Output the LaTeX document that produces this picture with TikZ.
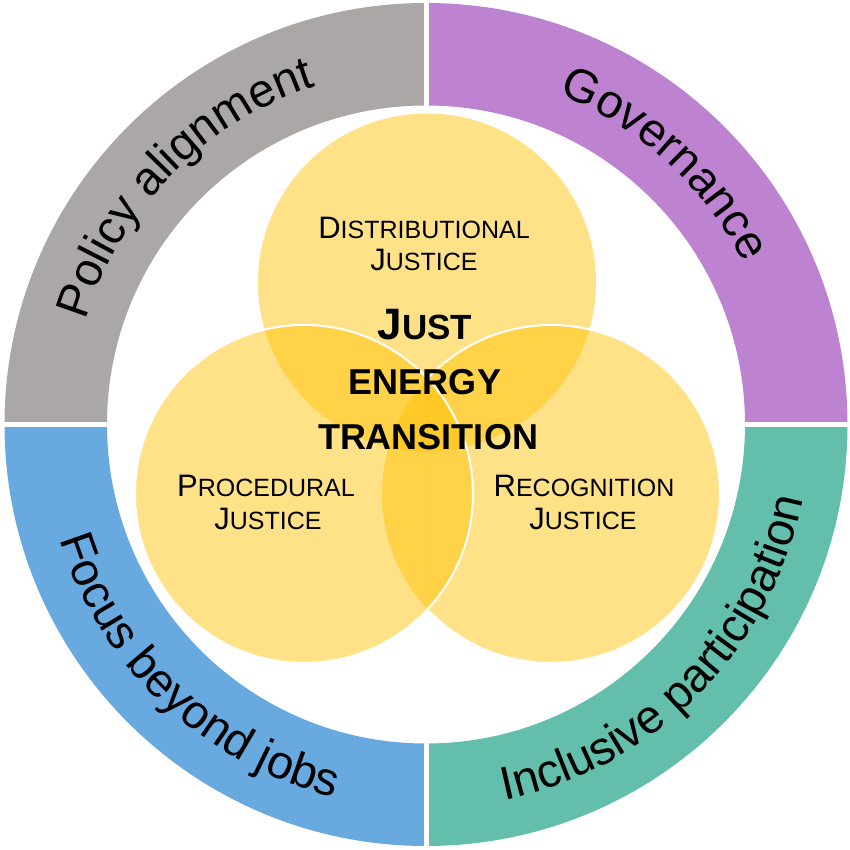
\documentclass[tikz,border=0pt]{standalone}
\usepackage{fontspec}
\setmainfont{Liberation Sans}
\usetikzlibrary{decorations.text}
\definecolor{ringgray}{HTML}{ABA7A6}
\definecolor{ringpurple}{HTML}{BE83D0}
\definecolor{ringblue}{HTML}{68A9E0}
\definecolor{ringteal}{HTML}{63BFAB}
\definecolor{goldfill}{HTML}{FFC000}
\newcommand\ringfont{\fontsize{47}{47}\selectfont}
\newcommand\capA[1]{{\fontsize{31}{31}\selectfont #1}}
\newcommand\capB[1]{{\fontsize{25}{25}\selectfont #1}}
\tikzset{
  venn/.style={fill=goldfill, fill opacity=0.47},
  vennborder/.style={draw=white, line width=2pt},
  gapline/.style={draw=white, line width=5pt},
  lbl/.style={anchor=base, inner sep=0pt, text=black},
  ringtext/.style={decorate, decoration={text along path, text align=center, text={|\ringfont|#1}}}
}
\begin{document}
\begin{tikzpicture}[x=1pt,y=1pt]
\useasboundingbox (-426,-425.5) rectangle (424,424.5);
% ring sectors
\fill[ringgray] (180:421.5pt) arc[start angle=180,end angle=90,radius=421.5pt] -- (90:319pt) arc[start angle=90,end angle=180,radius=319pt] -- cycle;
\fill[ringpurple] (90:421.5pt) arc[start angle=90,end angle=0,radius=421.5pt] -- (0:319pt) arc[start angle=0,end angle=90,radius=319pt] -- cycle;
\fill[ringblue] (270:421.5pt) arc[start angle=270,end angle=180,radius=421.5pt] -- (180:319pt) arc[start angle=180,end angle=270,radius=319pt] -- cycle;
\fill[ringteal] (360:421.5pt) arc[start angle=360,end angle=270,radius=421.5pt] -- (270:319pt) arc[start angle=270,end angle=360,radius=319pt] -- cycle;
\coordinate (gt) at (0,430);
\coordinate (gb) at (0,-430);
\coordinate (gl) at (-430,0);
\coordinate (gr) at (430,0);
\draw[gapline] (gt) -- (gb);
\draw[gapline] (gl) -- (gr);
% ring labels
\path[ringtext={Policy alignment}] (215.5:356pt) arc[start angle=215.5,end angle=55.5,radius=356pt];
\path[ringtext={Governance}] (127.5:356pt) arc[start angle=127.5,end angle=-32.5,radius=356pt];
\path[ringtext={Focus beyond jobs}] (146.8:384pt) arc[start angle=146.8,end angle=306.8,radius=384pt];
\path[ringtext={Inclusive participation}] (235.3:384pt) arc[start angle=235.3,end angle=395.3,radius=384pt];
% venn circles
\coordinate (ct) at (1,142);
\coordinate (cl) at (-122,-69.5);
\coordinate (cr) at (125,-69.5);
\fill[venn] (ct) circle[radius=169pt];
\fill[venn] (cr) circle[radius=169pt];
\fill[venn] (cl) circle[radius=169pt];
\draw[vennborder] (cr) ++(-136.94:169pt) arc[start angle=-136.94,end angle=136.94,radius=169pt];
\draw[vennborder] (cl) circle[radius=169pt];
% texts
\node[lbl] (d1) at (-2,185.5) {\capA{D}\capB{ISTRIBUTIONAL}};
\node[lbl] (d2) at (-2,153.5) {\capA{J}\capB{USTICE}};
\node[lbl] (p1) at (-160,-72.5) {\capA{P}\capB{ROCEDURAL}};
\node[lbl] (p2) at (-158,-105.5) {\capA{J}\capB{USTICE}};
\node[lbl] (r1) at (158,-72.5) {\capA{R}\capB{ECOGNITION}};
\node[lbl] (r2) at (157,-105.5) {\capA{J}\capB{USTICE}};
\node[lbl] (j1) at (-1,84.5) {\bfseries{\fontsize{44}{44}\selectfont J}{\fontsize{35}{35}\selectfont UST}};
\node[lbl] (j2) at (-1,29.5) {\bfseries\fontsize{36}{36}\selectfont ENERGY};
\node[lbl] (j3) at (2,-25.5) {\bfseries\fontsize{36}{36}\selectfont TRANSITION};
\end{tikzpicture}
\end{document}
